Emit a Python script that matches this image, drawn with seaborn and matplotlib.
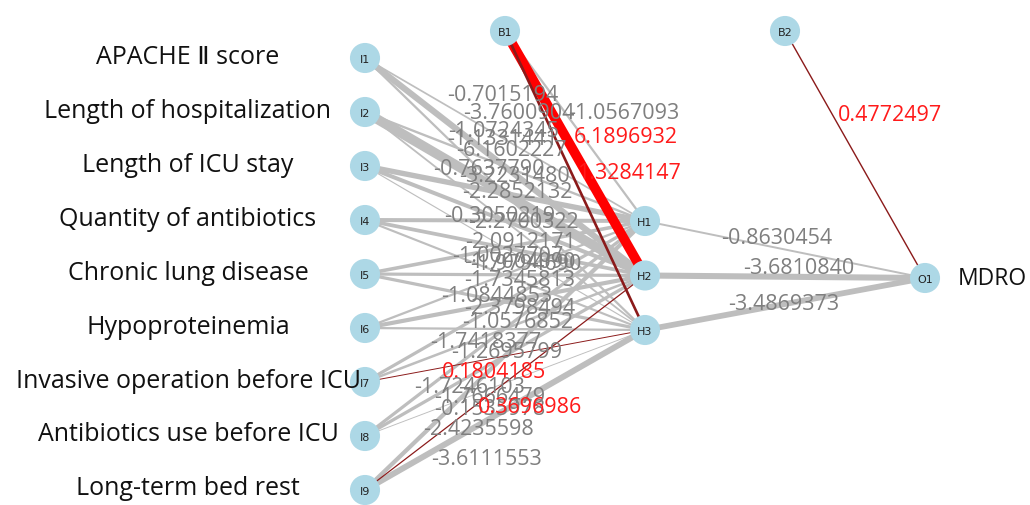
import numpy as np
import pandas as pd
import matplotlib
matplotlib.use("Agg")
import matplotlib.pyplot as plt
import seaborn as sns

# input variable names (left side)
input_names = ["APACHE Ⅱ score", "Length of hospitalization", "Length of ICU stay",
               "Quantity of antibiotics", "Chronic lung disease", "Hypoproteinemia",
               "Invasive operation before ICU", "Antibiotics use before ICU", "Long-term bed rest"]
output_name = "MDRO"

# input -> hidden weights, rows = I1..I9, cols = H1..H3
w_input_hidden = [
    [-0.7015194, -3.7600904, -1.0724345],
    [-1.1331441, -6.1602227, -0.7637790],
    [-3.2231480, -2.2852132, -0.3050219],
    [-2.2700322, -2.0912171, -1.0027707],
    [-1.9794690, -1.7004090, -1.7345813],
    [-1.0844853, -2.3798494, -1.0576852],
    [-1.7418377, -1.2695799, 0.1804185],
    [-1.7246103, -1.7666479, -0.1535978],
    [-2.4235598, 0.3696986, -3.6111553],
]
# bias B1 -> H1..H3
w_bias_hidden = [-1.0567093, 6.1896932, 1.3284147]
# H1..H3 -> O1
w_hidden_output = [-0.8630454, -3.6810840, -3.4869373]
# bias B2 -> O1
w_bias_output = [0.4772497]

# where the weight labels sit (pixel coords, same order as the weights above)
label_pos_ih = [
    [(503, 95), (519, 113), (504, 131)],
    [(503, 139), (511, 150), (489, 169)],
    [(514, 176), (517, 193), (500, 217)],
    [(523, 222), (521, 242), (508, 256)],
    [(526, 265), (520, 262), (520, 280)],
    [(497, 297), (520, 308), (518, 323)],
    [(486, 343), (507, 352), (494, 373)],
    [(470, 388), (490, 398), (490, 410)],
    [(478, 430), (530, 408), (487, 460)],
]
label_pos_bh = [(624, 113), (626, 137), (629, 173)]
label_pos_ho = [(777, 238), (799, 268), (784, 304)]
label_pos_bo = [(890, 115)]

# ---- layout (pixel space) ----
W, H = 1030, 506
n_in, n_hid = len(input_names), len(w_bias_hidden)
x_in, x_hid, x_out = 365, 645, 925
y_in = np.linspace(59, 491, n_in)
y_hid = np.linspace(222, 331, n_hid)
y_out = [279]
pos = {}
for i in range(n_in):
    pos[f"I{i+1}"] = (x_in, y_in[i])
for j in range(n_hid):
    pos[f"H{j+1}"] = (x_hid, y_hid[j])
pos["O1"] = (x_out, y_out[0])
pos["B1"] = ((x_in + x_hid) / 2, 32)
pos["B2"] = ((x_hid + x_out) / 2, 32)

edges = []
for i in range(n_in):
    for j in range(n_hid):
        edges.append((f"I{i+1}", f"H{j+1}", w_input_hidden[i][j], label_pos_ih[i][j]))
for j in range(n_hid):
    edges.append(("B1", f"H{j+1}", w_bias_hidden[j], label_pos_bh[j]))
for j in range(n_hid):
    edges.append((f"H{j+1}", "O1", w_hidden_output[j], label_pos_ho[j]))
edges.append(("B2", "O1", w_bias_output[0], label_pos_bo[0]))
edges = pd.DataFrame(edges, columns=["src", "dst", "weight", "lab"])

sns.set_theme(style="white")
plt.rcParams["font.family"] = ["Open Sans", "DejaVu Sans", "Noto Sans CJK SC"]

fig = plt.figure(figsize=(W / 100, H / 100), dpi=100)
ax = fig.add_axes([0, 0, 1, 1])

max_w = edges["weight"].abs().max()
neg_col, pos_col, pos_thin = "#bebebe", "#ff0000", "#8b1a1a"

# negative (gray) first, positive (red) on top
order = list(edges[edges.weight < 0].index) + list(edges[edges.weight >= 0].index)
for k in order:
    e = edges.loc[k]
    (x0, y0), (x1, y1) = pos[e.src], pos[e.dst]
    lw = 0.5 + 6.5 * abs(e.weight) / max_w
    if e.weight < 0:
        col = neg_col
    else:
        col = pos_col if abs(e.weight) > 3 else pos_thin
    ax.plot([x0, x1], [y0, y1], color=col, lw=lw, solid_capstyle="butt",
            zorder=1 if e.weight < 0 else 2)

# nodes
nodes = pd.DataFrame([(n, p[0], p[1]) for n, p in pos.items()], columns=["name", "x", "y"])
sns.scatterplot(data=nodes, x="x", y="y", s=470, color="#add8e6", edgecolor="none",
                ax=ax, zorder=4, legend=False)
ax.set_xlim(0, W)
ax.set_ylim(H, 0)
ax.axis("off")
for _, n in nodes.iterrows():
    ax.text(n.x, n.y + 1, n["name"], ha="center", va="center", fontsize=8, color="#222222",
            family=["DejaVu Sans"], zorder=5)

# weight labels
for _, e in edges.iterrows():
    ax.text(e.lab[0], e.lab[1], f"{e.weight:.7f}", ha="center", va="center", fontsize=15.5,
            color="#7f7f7f" if e.weight < 0 else "#ff1a1a", zorder=6)

# variable names
for i, name in enumerate(input_names):
    ax.text(188, y_in[i] - 2, name, ha="center", va="center", fontsize=18,
            color="#111111", zorder=6)
ax.text(958, y_out[0], output_name, ha="left", va="center", fontsize=16.5,
        color="#111111", zorder=6)

fig.savefig("out.png", dpi=100)
